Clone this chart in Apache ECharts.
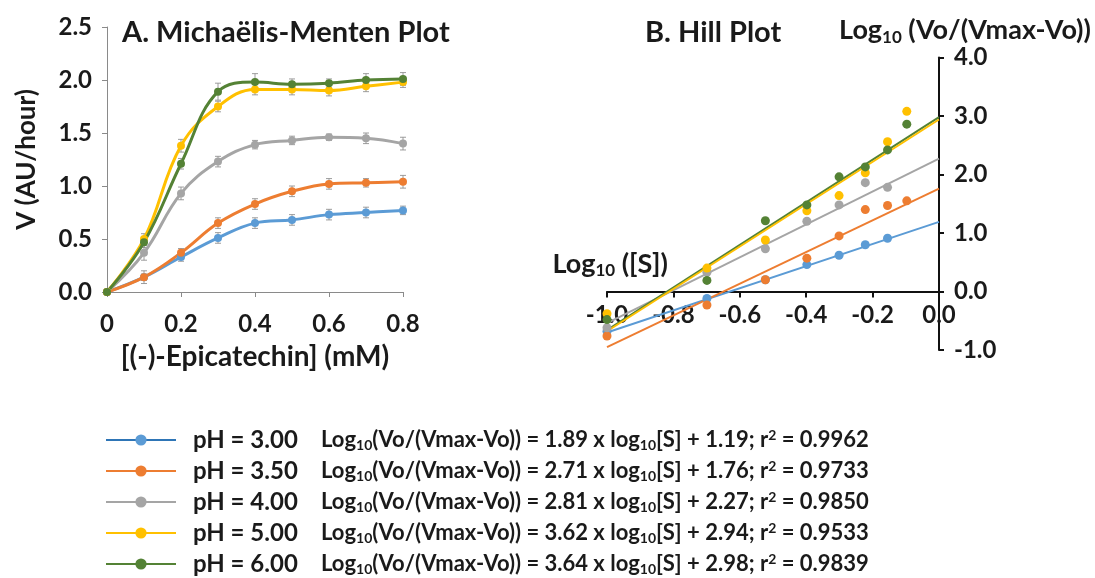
<!DOCTYPE html>
<html>
<head>
<meta charset="utf-8">
<script src="https://cdn.jsdelivr.net/npm/echarts@6/dist/echarts.min.js"></script>
<style>html,body{margin:0;padding:0;background:#fff}#c{width:1095px;height:578px}</style>
</head>
<body>
<div id="c"></div>
<script>
// ---- Data ----
const phNames = ['pH = 3.00', 'pH = 3.50', 'pH = 4.00', 'pH = 5.00', 'pH = 6.00'];
const colors = ['#5B9BD5', '#ED7D31', '#A5A5A5', '#FFC000', '#548235'];

// A. Michaelis-Menten: [(-)-Epicatechin] (mM) vs V (AU/hour)
const mmX = [0, 0.1, 0.2, 0.3, 0.4, 0.5, 0.6, 0.7, 0.8];
const v_pH3 = [0, 0.14, 0.33, 0.51, 0.65, 0.68, 0.73, 0.75, 0.77];
const v_pH35 = [0, 0.14, 0.37, 0.65, 0.83, 0.95, 1.02, 1.03, 1.04];
const v_pH4 = [0, 0.37, 0.93, 1.23, 1.39, 1.43, 1.46, 1.45, 1.40];
const v_pH5 = [0, 0.50, 1.38, 1.75, 1.91, 1.91, 1.90, 1.94, 1.98];
const v_pH6 = [0, 0.47, 1.21, 1.89, 1.98, 1.96, 1.97, 2.00, 2.01];
const e_pH3 = [0, 0.03, 0.04, 0.05, 0.05, 0.05, 0.05, 0.05, 0.04];
const e_pH35 = [0, 0.06, 0.04, 0.05, 0.05, 0.05, 0.05, 0.04, 0.06];
const e_pH4 = [0, 0.07, 0.06, 0.05, 0.04, 0.04, 0.03, 0.05, 0.06];
const e_pH5 = [0, 0.05, 0.06, 0.05, 0.05, 0.05, 0.05, 0.05, 0.05];
const e_pH6 = [0, 0.05, 0.05, 0.08, 0.08, 0.05, 0.04, 0.06, 0.06];

// B. Hill plot: log10([S]) vs log10(Vo/(Vmax-Vo))
const hillX = [-1.0, -0.699, -0.523, -0.398, -0.301, -0.222, -0.155, -0.097];
const h_pH3 = [-0.68, -0.12, 0.20, 0.46, 0.62, 0.80, 0.91, null];
const h_pH35 = [-0.76, -0.23, 0.20, 0.57, 0.95, 1.40, 1.47, 1.55];
const h_pH4 = [-0.62, 0.33, 0.73, 1.20, 1.48, 1.86, 1.78, null];
const h_pH5 = [-0.38, 0.40, 0.88, 1.38, 1.64, 2.03, 2.56, 3.08];
const h_pH6 = [-0.48, 0.19, 1.21, 1.48, 1.96, 2.13, 2.42, 2.86];

// Linear fits (from the legend equations)
const slopes = [1.89, 2.71, 2.81, 3.62, 3.64];
const intercepts = [1.19, 1.76, 2.27, 2.94, 2.98];
const r2 = ['0.9962', '0.9733', '0.9850', '0.9533', '0.9839'];
const fitRange = [-1.0, 0.0];

// Tick settings
const leftXTicks = { min: 0, max: 0.8, interval: 0.2 };
const leftYTicks = { min: 0, max: 2.5, interval: 0.5 };
const rightXTicks = { min: -1.0, max: 0.0, interval: 0.2 };
const rightYTicks = { min: -1.0, max: 4.0, interval: 1.0 };

// ---- Chart ----
const V = [v_pH3, v_pH35, v_pH4, v_pH5, v_pH6];
const E = [e_pH3, e_pH35, e_pH4, e_pH5, e_pH6];
const H = [h_pH3, h_pH35, h_pH4, h_pH5, h_pH6];

const FONT = 'Lato';
const TXT = '#1a1a1a';
const HGT = 578;
const grid2 = { left: 607, right: 156, top: 57.5, bottom: 228 };
// the Hill plot's x axis crosses the y axis at y = 0
const grid2H = HGT - grid2.top - grid2.bottom;
const xAxis2Offset = -grid2H * (0 - rightYTicks.min) / (rightYTicks.max - rightYTicks.min);

const chart = echarts.init(document.getElementById('c'), null, { renderer: 'canvas' });

const series = [];
// left lines (first, so legend icons come from them)
phNames.forEach((n, i) => {
  series.push({
    name: n, type: 'line', xAxisIndex: 0, yAxisIndex: 0, z: 3,
    data: mmX.map((x, k) => [x, V[i][k]]),
    smooth: 0.4, symbol: 'circle', symbolSize: 8,
    lineStyle: { width: 3, color: colors[i] }, itemStyle: { color: colors[i] }
  });
});
// left error bars
phNames.forEach((n, i) => {
  series.push({
    name: n + ' SD', type: 'custom', xAxisIndex: 0, yAxisIndex: 0, z: 2, silent: true,
    data: mmX.map((x, k) => [x, V[i][k], E[i][k]]),
    renderItem: (params, api) => {
      const x = api.value(0), y = api.value(1), e = api.value(2);
      if (!e) return null;
      const t = api.coord([x, y + e]), b = api.coord([x, y - e]);
      const st = { stroke: 'rgba(140,140,140,0.85)', lineWidth: 1 };
      return { type: 'group', children: [
        { type: 'line', shape: { x1: t[0], y1: t[1], x2: b[0], y2: b[1] }, style: st },
        { type: 'line', shape: { x1: t[0] - 3, y1: t[1], x2: t[0] + 3, y2: t[1] }, style: st },
        { type: 'line', shape: { x1: b[0] - 3, y1: b[1], x2: b[0] + 3, y2: b[1] }, style: st }
      ]};
    }
  });
});
// right fit lines (green before yellow so yellow shows on top)
[0, 1, 2, 4, 3].forEach(i => {
  series.push({
    name: phNames[i], type: 'line', xAxisIndex: 1, yAxisIndex: 1, z: 3,
    data: fitRange.map(x => [x, slopes[i] * x + intercepts[i]]),
    symbol: 'none', lineStyle: { width: 2, color: colors[i] }, itemStyle: { color: colors[i] }
  });
});
// right scatter points
phNames.forEach((n, i) => {
  series.push({
    name: n, type: 'scatter', xAxisIndex: 1, yAxisIndex: 1, z: 4,
    data: hillX.map((x, k) => [x, H[i][k]]).filter(d => d[1] !== null),
    symbolSize: 9, itemStyle: { color: colors[i], opacity: 1 }
  });
});

const rich = {
  ph: { fontFamily: FONT, fontWeight: 'bold', fontSize: 24, lineHeight: 24, color: TXT, width: 128, padding: [0, 0, 0, 12] },
  eq: { fontFamily: FONT, fontWeight: 'bold', fontSize: 22, lineHeight: 24, color: TXT },
  sub: { fontFamily: FONT, fontWeight: 'bold', fontSize: 14, lineHeight: 14, padding: [10, 0, 0, 0], verticalAlign: 'bottom', color: TXT },
  sup: { fontFamily: FONT, fontWeight: 'bold', fontSize: 14, lineHeight: 14, padding: [0, 0, 10, 0], verticalAlign: 'top', color: TXT }
};

const axisLbl = { fontFamily: FONT, fontWeight: 'bold', fontSize: 24, color: TXT };
const nameRich = {
  n: { fontFamily: FONT, fontWeight: 'bold', fontSize: 27, lineHeight: 30, color: TXT },
  s: { fontFamily: FONT, fontWeight: 'bold', fontSize: 17, lineHeight: 17, padding: [13, 0, 0, 0], verticalAlign: 'bottom', color: TXT }
};

const option = {
  backgroundColor: '#fff',
  animation: false,
  title: [
    { text: 'A. Michaëlis-Menten Plot', left: 122, top: 17, padding: 0,
      textStyle: { fontFamily: FONT, fontWeight: 'bold', fontSize: 29, lineHeight: 32, color: TXT } },
    { text: 'B. Hill Plot', left: 645, top: 17, padding: 0,
      textStyle: { fontFamily: FONT, fontWeight: 'bold', fontSize: 29, lineHeight: 32, color: TXT } }
  ],
  grid: [
    { left: 107, right: 692, top: 27, bottom: 286, containLabel: false },
    Object.assign({ containLabel: false }, grid2)
  ],
  xAxis: [
    { gridIndex: 0, type: 'value', min: leftXTicks.min, max: leftXTicks.max, interval: leftXTicks.interval,
      name: '[(-)-Epicatechin] (mM)', nameLocation: 'middle', nameGap: 51,
      nameTextStyle: { fontFamily: FONT, fontWeight: 'bold', fontSize: 28, color: TXT },
      axisLine: { onZero: false, lineStyle: { color: '#8a8a8a', width: 1 } },
      axisTick: { show: true, length: 5, lineStyle: { color: '#8a8a8a' } },
      axisLabel: Object.assign({ margin: 20 }, axisLbl),
      splitLine: { show: false } },
    { gridIndex: 1, type: 'value', position: 'bottom', offset: xAxis2Offset,
      min: rightXTicks.min, max: rightXTicks.max, interval: rightXTicks.interval,
      name: '{n|Log}{s|10}{n| ([S])}', nameLocation: 'start', nameGap: -61,
      nameTextStyle: { verticalAlign: 'bottom', padding: [0, 0, 12, 0], rich: nameRich },
      axisLine: { onZero: false, lineStyle: { color: '#111', width: 2 } },
      axisTick: { show: true, length: 6, lineStyle: { color: '#111', width: 2 } },
      axisLabel: Object.assign({ margin: 12, formatter: v => v.toFixed(1) }, axisLbl),
      splitLine: { show: false } }
  ],
  yAxis: [
    { gridIndex: 0, type: 'value', min: leftYTicks.min, max: leftYTicks.max, interval: leftYTicks.interval,
      name: 'V (AU/hour)', nameLocation: 'middle', nameGap: 67,
      nameTextStyle: { fontFamily: FONT, fontWeight: 'bold', fontSize: 26, color: TXT },
      axisLine: { show: true, onZero: false, lineStyle: { color: '#8a8a8a', width: 1 } },
      axisTick: { show: true, length: 5, lineStyle: { color: '#8a8a8a' } },
      axisLabel: Object.assign({ margin: 15, formatter: v => v.toFixed(1) }, axisLbl),
      splitLine: { show: false } },
    { gridIndex: 1, type: 'value', position: 'right', min: rightYTicks.min, max: rightYTicks.max, interval: rightYTicks.interval,
      name: '{n|Log}{s|10}{n| (Vo/(Vmax-Vo))}', nameLocation: 'end', nameGap: 9,
      nameTextStyle: { align: 'center', padding: [0, 0, 0, 52], rich: nameRich },
      axisLine: { show: true, onZero: false, lineStyle: { color: '#111', width: 2 } },
      axisTick: { show: true, length: 5, lineStyle: { color: '#111', width: 2 } },
      axisLabel: Object.assign({ margin: 15, formatter: v => v.toFixed(1) }, axisLbl),
      splitLine: { show: false } }
  ],
  legend: {
    orient: 'vertical', left: 105, top: 428, height: 220, padding: 0, itemGap: 7,
    itemWidth: 70, itemHeight: 14,
    data: phNames.map((n, i) => i === 0 ? { name: n, lineStyle: { color: '#2E75B6' } } : n),
    formatter: name => {
      const i = phNames.indexOf(name);
      return '{ph|' + name + '}{eq|Log}{sub|10}{eq|(Vo/(Vmax-Vo)) = ' + slopes[i].toFixed(2) +
        ' x log}{sub|10}{eq|[S] + ' + intercepts[i].toFixed(2) + '; r}{sup|2}{eq| = ' + r2[i] + '}';
    },
    textStyle: { rich: rich }
  },
  series: series
};
chart.setOption(option);
</script>
</body>
</html>
